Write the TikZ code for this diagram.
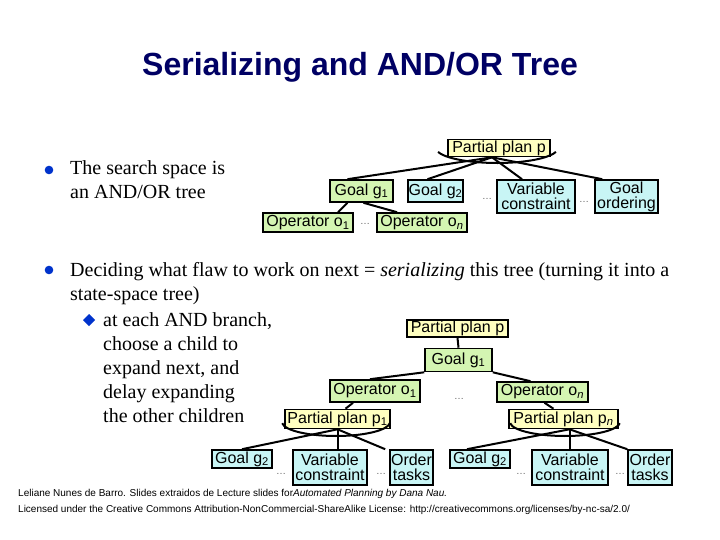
\documentclass[tikz,border=0pt]{standalone}
\usepackage{fontspec}
\setmainfont{Liberation Serif}
\newfontfamily\arial{Liberation Sans}
\definecolor{plany}{RGB}{255,255,192}
\definecolor{goalg}{RGB}{212,245,178}
\definecolor{flawc}{RGB}{200,245,245}
\definecolor{titleblue}{RGB}{0,0,100}
\definecolor{bulblue}{RGB}{0,51,204}
\begin{document}
\begin{tikzpicture}[x=1pt,y=1pt,
  nd/.style={draw=black, line width=1.6pt, inner sep=0pt, align=center,
    font=\arial\fontsize{16}{15}\selectfont},
  yel/.style={nd, fill=plany},
  grn/.style={nd, fill=goalg},
  cyn/.style={nd, fill=flawc},
  edge/.style={line width=2pt},
  dotsnode/.style={font=\arial\fontsize{10}{10}\selectfont, text=gray!80!black, inner sep=0pt},
  bodytext/.style={anchor=base west, inner sep=0pt, font=\fontsize{20}{24}\selectfont},
  bul/.style={fill=bulblue}
]
\useasboundingbox[fill=white] (0,0) rectangle (720,-540);

% title
\node[anchor=base, inner sep=0pt, text=titleblue, font=\arial\bfseries\fontsize{32}{32}\selectfont] (title) at (360,-76) {Serializing and AND/OR Tree};

% bullets and body text
\fill[bul] (49,-170) circle (4.3);
\node[bodytext] (t1) at (70,-175) {The search space is};
\node[bodytext] (t2) at (70,-199) {an AND/OR tree};
\fill[bul] (49,-270) circle (4.3);
\node[bodytext] (t3) at (70,-276) {Deciding what flaw to work on next = \textit{serializing} this tree (turning it into a};
\node[bodytext] (t4) at (70,-300) {state-space tree)};
\fill[bul] (89,-314) -- (95,-320) -- (89,-326) -- (83,-320) -- cycle;
\node[bodytext] (t5) at (103,-326) {at each AND branch,};
\node[bodytext] (t6) at (103,-350) {choose a child to};
\node[bodytext] (t7) at (103,-374) {expand next, and};
\node[bodytext] (t8) at (103,-398) {delay expanding};
\node[bodytext] (t9) at (103,-422) {the other children};

% ---------- top tree ----------
\node[yel, minimum width=102pt, minimum height=17pt] (pp) at (499,-148) {Partial plan p};
\node[grn, minimum width=63pt, minimum height=22pt] (g1) at (361.5,-191) {Goal g\textsubscript{1}};
\node[cyn, minimum width=55pt, minimum height=22pt] (g2) at (435.5,-191) {Goal g\textsubscript{2}};
\node[cyn, minimum width=78pt, minimum height=33pt] (vc) at (536,-196.5) {Variable\\constraint};
\node[cyn, minimum width=63pt, minimum height=33pt] (go) at (626.5,-196.5) {Goal\\ordering};
\node[grn, minimum width=90pt, minimum height=19pt] (o1) at (308,-222.5) {Operator o\textsubscript{1}};
\node[grn, minimum width=90pt, minimum height=19pt] (on) at (422,-222.5) {Operator o\textsubscript{\textit{n}}};
\node[dotsnode] (d1) at (487,-199) {\dots};
\node[dotsnode] (d2) at (584,-202) {\dots};
\node[dotsnode] (d3) at (365,-224) {\dots};

\coordinate (ppc) at ([xshift=-7pt]pp.south);
\draw[edge] (ppc) -- ([xshift=-14pt]g1.north);
\draw[edge] (ppc) -- ([xshift=-8pt]g2.north);
\draw[edge] (ppc) -- ([xshift=-14pt]vc.north);
\draw[edge] (ppc) -- ([xshift=8pt]go.north west);
\draw[edge] (497,-148) ++(195:61 and 15) arc[start angle=195, end angle=345, x radius=61, y radius=15];
\draw[edge] ([xshift=-14pt]g1.south) -- ([xshift=30pt]o1.north);
\draw[edge] ([xshift=2pt]g1.south) -- ([xshift=-25pt]on.north);

% ---------- bottom tree ----------
\node[yel, minimum width=101pt, minimum height=17pt] (bpp) at (457.5,-328.5) {Partial plan p};
\node[grn, minimum width=67pt, minimum height=23pt] (bg1) at (458.5,-360) {Goal g\textsubscript{1}};
\node[grn, minimum width=90pt, minimum height=22pt] (bo1) at (375,-391) {Operator o\textsubscript{1}};
\node[grn, minimum width=91pt, minimum height=20pt] (bon) at (542.5,-392) {Operator o\textsubscript{\textit{n}}};
\node[dotsnode] (d4) at (459,-399) {\dots};
\node[yel, minimum width=105pt, minimum height=19pt] (bp1) at (337.5,-419) {Partial plan p\textsubscript{1}};
\node[yel, minimum width=109pt, minimum height=19pt] (bpn) at (563.5,-419) {Partial plan p\textsubscript{\textit{n}}};

\node[cyn, minimum width=60pt, minimum height=18pt] (lg2) at (242,-459) {Goal g\textsubscript{2}};
\node[cyn, minimum width=74pt, minimum height=35pt] (lvc) at (330,-467.5) {Variable\\constraint};
\node[cyn, minimum width=43pt, minimum height=35pt] (lot) at (411.5,-467.5) {Order\\tasks};
\node[cyn, minimum width=60pt, minimum height=18pt] (rg2) at (480,-459) {Goal g\textsubscript{2}};
\node[cyn, minimum width=76pt, minimum height=35pt] (rvc) at (570,-467.5) {Variable\\constraint};
\node[cyn, minimum width=44pt, minimum height=35pt] (rot) at (650,-467.5) {Order\\tasks};
\node[dotsnode] (d5) at (281,-474) {\dots};
\node[dotsnode] (d6) at (381,-474) {\dots};
\node[dotsnode] (d7) at (521,-474) {\dots};
\node[dotsnode] (d8) at (620,-474) {\dots};

\draw[edge] (bpp.south) -- (bg1.north);
\draw[edge] (bg1.south west) -- ([xshift=-5pt]bo1.north);
\draw[edge] (bg1.south east) -- ([xshift=-12pt]bon.north);
\draw[edge] ([xshift=-22pt]bo1.south) -- ([xshift=8pt]bp1.north);
\draw[edge] ([xshift=2pt]bon.south) -- ([xshift=-10pt]bpn.north);

\coordinate (p1c) at (bp1.south);
\draw[edge] (p1c) -- (lg2.north);
\draw[edge] (p1c) -- (p1c |- lvc.north);
\draw[edge] (p1c) -- ([xshift=-4pt]lot.north west);
\draw[edge] (336,-422) ++(185:54 and 14) arc[start angle=185, end angle=355, x radius=54, y radius=14];

\coordinate (pnc) at ([xshift=6pt]bpn.south);
\draw[edge] (pnc) -- ([xshift=-13pt]rg2.north);
\draw[edge] (pnc) -- (pnc |- rvc.north);
\draw[edge] (pnc) -- (rot.north west);
\draw[edge] (565,-422) ++(185:55 and 14) arc[start angle=185, end angle=355, x radius=55, y radius=14];

% footer
\node[anchor=base west, inner sep=0pt, font=\arial\fontsize{10}{10}\selectfont] (f1) at (18,-496) {Leliane Nunes de Barro. Slides extraidos de Lecture slides for\textit{Automated Planning by Dana Nau.}};
\node[anchor=base west, inner sep=0pt, font=\arial\fontsize{10}{10}\selectfont] (f2) at (18,-512) {Licensed under the Creative Commons Attribution-NonCommercial-ShareAlike License: http://creativecommons.org/licenses/by-nc-sa/2.0/};
\end{tikzpicture}
\end{document}
